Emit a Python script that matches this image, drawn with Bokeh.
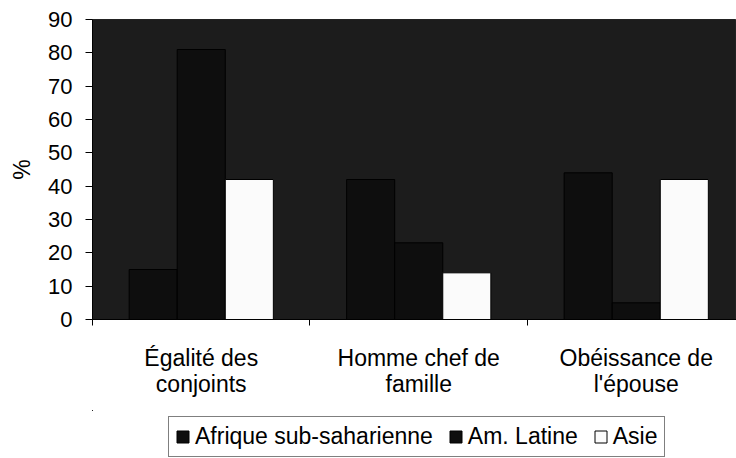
from bokeh.plotting import figure
from bokeh.layouts import column
from bokeh.models import ColumnDataSource, FixedTicker, Legend, LegendItem
from bokeh.transform import dodge
from bokeh.embed import file_html
from bokeh.resources import INLINE

# ---- data ----
categories = ["Égalité des\nconjoints", "Homme chef de\nfamille", "Obéissance de\nl'épouse"]
cat_pos = [0.5, 1.5, 2.5]
afrique = [15, 42, 44]
am_latine = [81, 23, 5]
asie = [42, 14, 42]
series_names = ["Afrique sub-saharienne", "Am. Latine", "Asie"]
y_ticks = [0, 10, 20, 30, 40, 50, 60, 70, 80, 90]

src = ColumnDataSource(dict(x=cat_pos, afrique=afrique, am_latine=am_latine, asie=asie))

FONT = "Liberation Sans"
DARK = "#0e0e0e"
LIGHT = "#fbfbfb"

p = figure(width=736, height=410, output_backend="svg", toolbar_location=None,
           x_range=(0, 2.961), y_range=(0, 90),
           min_border_left=92, min_border_right=0, min_border_top=19, min_border_bottom=91)
p.background_fill_color = "#1c1c1c"
p.border_fill_color = "white"
p.outline_line_color = "#222222"
p.grid.visible = False

W = 0.221
p.vbar(x=dodge("x", -W, range=p.x_range), top="afrique", width=W, source=src,
       fill_color=DARK, line_color="black")
p.vbar(x=dodge("x", 0.0, range=p.x_range), top="am_latine", width=W, source=src,
       fill_color=DARK, line_color="black")
p.vbar(x=dodge("x", W, range=p.x_range), top="asie", width=W, source=src,
       fill_color=LIGHT, line_color="black")

# x axis
xa = p.xaxis[0]
xa.ticker = FixedTicker(ticks=cat_pos, minor_ticks=[0, 1, 2, 3])
xa.major_label_overrides = {v: c for v, c in zip(cat_pos, categories)}
xa.major_tick_out = 0
xa.major_tick_in = 0
xa.minor_tick_out = 6
xa.minor_tick_in = 0
xa.minor_tick_line_color = "black"
xa.axis_line_color = "black"
xa.major_label_text_font = FONT
xa.major_label_text_font_size = "23px"
xa.major_label_text_line_height = 1.0
xa.major_label_text_color = "black"
xa.major_label_standoff = 19

# y axis
ya = p.yaxis[0]
ya.ticker = FixedTicker(ticks=y_ticks)
ya.minor_tick_line_color = None
ya.major_tick_out = 7
ya.major_tick_in = 0
ya.major_tick_line_color = "black"
ya.axis_line_color = "black"
ya.major_label_text_font = FONT
ya.major_label_text_font_size = "22px"
ya.major_label_text_color = "black"
ya.major_label_standoff = 13
ya.axis_label = "%"
ya.axis_label_text_font = FONT
ya.axis_label_text_font_size = "23px"
ya.axis_label_text_font_style = "normal"
ya.axis_label_text_color = "black"
ya.axis_label_standoff = 10

# legend strip below the chart (its glyph renderers sit outside the visible ranges)
q = figure(width=736, height=48, output_backend="svg", toolbar_location=None,
           x_range=(10, 11), y_range=(-2, -1), min_border=0)
q.axis.visible = False
q.grid.visible = False
q.outline_line_color = None
l1 = q.vbar(x="x", top="afrique", width=W, source=src, fill_color=DARK, line_color="black")
l2 = q.vbar(x="x", top="am_latine", width=W, source=src, fill_color=DARK, line_color="black")
l3 = q.vbar(x="x", top="asie", width=W, source=src, fill_color=LIGHT, line_color="black")

legend = Legend(items=[LegendItem(label=series_names[0], renderers=[l1]),
                       LegendItem(label=series_names[1], renderers=[l2]),
                       LegendItem(label=series_names[2], renderers=[l3])],
                orientation="horizontal", location=(76, 1))
legend.label_text_font = FONT
legend.label_text_font_size = "23px"
legend.label_text_color = "black"
legend.glyph_width = 15
legend.glyph_height = 15
legend.label_standoff = 5
legend.spacing = 15
legend.padding = 6
legend.margin = 0
legend.border_line_color = "black"
legend.border_line_width = 1
legend.background_fill_color = "white"
legend.background_fill_alpha = 1
q.add_layout(legend, "center")

layout = column(p, q, spacing=0)
open("out.html", "w").write(file_html(layout, INLINE))
